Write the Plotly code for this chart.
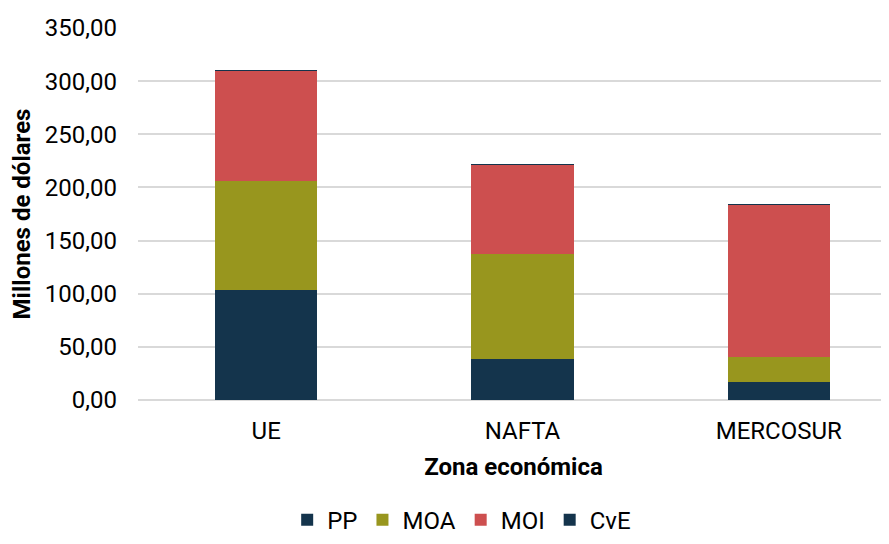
import plotly.graph_objects as go

zonas = ["UE", "NAFTA", "MERCOSUR"]
pp = [103.5, 38.6, 17.4]
moa = [103.0, 98.4, 22.6]
moi = [103.5, 84.5, 144.0]
cve = [0.25, 0.25, 0.25]

series = [("PP", pp, "#14344c"), ("MOA", moa, "#98961e"), ("MOI", moi, "#cd4f4f"), ("CvE", cve, "#14344c")]

fig = go.Figure()
for name, vals, col in series:
    fig.add_trace(go.Bar(x=zonas, y=vals, name=name, marker=dict(color=col, line=dict(width=0))))

fig.update_layout(
    barmode="stack",
    bargap=0.6,
    width=889, height=544,
    margin=dict(l=130, r=8, t=20, b=152, autoexpand=False),
    paper_bgcolor="white", plot_bgcolor="white",
    font=dict(family="Roboto", size=24, color="#000000"),
    separators=",.",
    showlegend=True,
    legend=dict(orientation="h", x=0.431, xanchor="center", y=-0.323, yanchor="middle",
                font=dict(size=24), traceorder="normal", itemwidth=30),
    xaxis=dict(range=[-0.5, 2.43], showgrid=False, ticks="", showline=False, automargin=False,
               ticklabelstandoff=14,
               title=dict(text="<b>Zona económica</b>", font=dict(size=24), standoff=14),
               tickfont=dict(size=24)),
    yaxis=dict(range=[0, 350], dtick=50, tickformat=".2f", showgrid=True, gridcolor="#d9d9d9",
               gridwidth=1.5, zeroline=True, zerolinecolor="#d9d9d9", zerolinewidth=1.5,
               ticklabelstandoff=20, automargin=False,
               title=dict(text="<b>Millones de dólares</b>", font=dict(size=24), standoff=10),
               tickfont=dict(size=24)),
)

fig.write_html("out.html")
